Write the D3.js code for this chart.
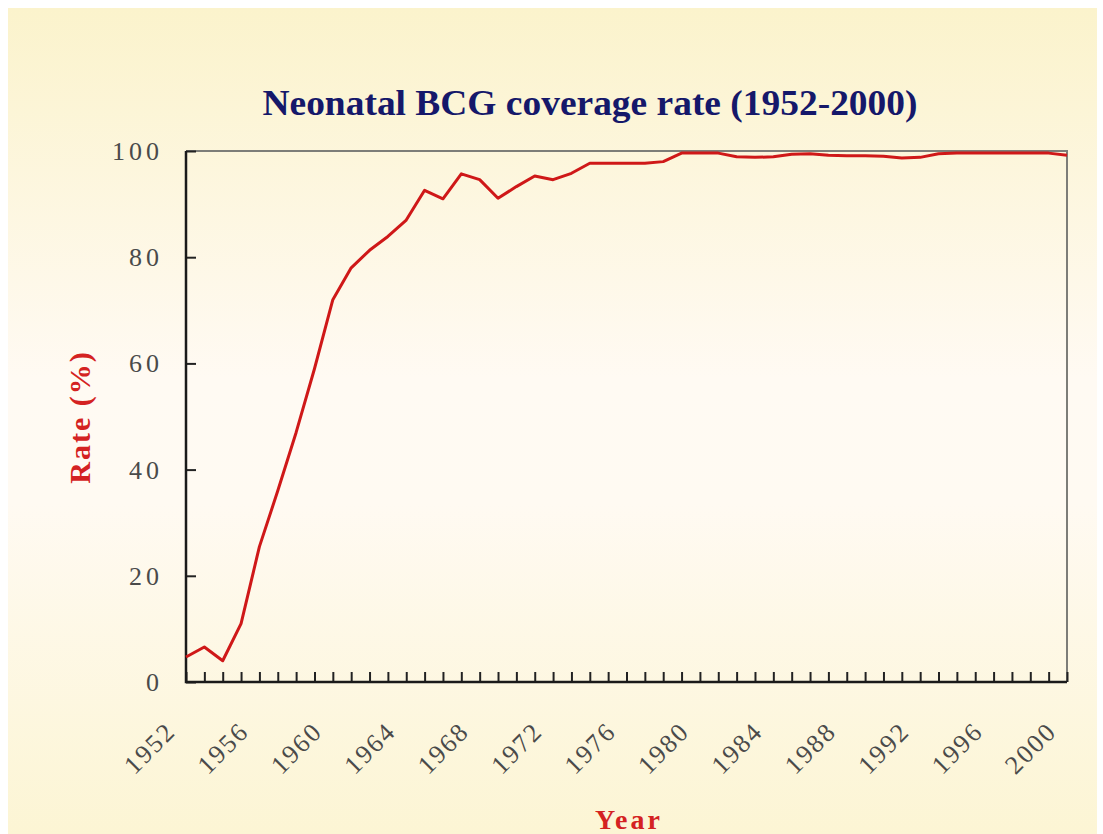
<!DOCTYPE html>
<html>
<head>
<meta charset="utf-8">
<script src="https://cdn.jsdelivr.net/npm/d3@7"></script>
<style>
  html, body { margin: 0; padding: 0; background: #ffffff; }
  svg { display: block; }
</style>
</head>
<body>
<div id="chart"></div>
<script>
// data
var years = [1952, 1953, 1954, 1955, 1956, 1957, 1958, 1959, 1960, 1961,
             1962, 1963, 1964, 1965, 1966, 1967, 1968, 1969, 1970, 1971,
             1972, 1973, 1974, 1975, 1976, 1977, 1978, 1979, 1980, 1981,
             1982, 1983, 1984, 1985, 1986, 1987, 1988, 1989, 1990, 1991,
             1992, 1993, 1994, 1995, 1996, 1997, 1998, 1999, 2000];
var rates = [4.7, 6.6, 4.0, 11, 25.5, 36, 47, 59, 72, 78,
             81.3, 83.9, 87, 92.6, 91, 95.7, 94.6, 91.1, 93.3, 95.3,
             94.6, 95.8, 97.7, 97.7, 97.7, 97.7, 98, 99.6, 99.6, 99.6,
             98.9, 98.8, 98.9, 99.4, 99.5, 99.2, 99.1, 99.1, 99.0, 98.7,
             98.8, 99.5, 99.6, 99.6, 99.6, 99.6, 99.6, 99.6, 99.2];
var yTicks = [0, 20, 40, 60, 80, 100];
var xLabelYears = [1952, 1956, 1960, 1964, 1968, 1972, 1976, 1980, 1984, 1988, 1992, 1996, 2000];
var titleText = "Neonatal BCG coverage rate (1952-2000)";

var W = 1103, H = 834;
// plot box (window.top is reserved, so prefixed names)
var pLeft = 186, pRight = 1067, pTop = 151, pBottom = 682;
var serif = "'Liberation Serif', 'Times New Roman', serif";

var svg = d3.select("#chart").append("svg")
    .attr("width", W)
    .attr("height", H);

// background gradient - cream top and bottom, lighter middle
var defs = svg.append("defs");
var grad = defs.append("linearGradient")
    .attr("id", "bg")
    .attr("x1", 0).attr("y1", 0).attr("x2", 0).attr("y2", 1);
grad.append("stop").attr("offset", "0%").attr("stop-color", "#fbf3cc");
grad.append("stop").attr("offset", "45%").attr("stop-color", "#fffaf3");
grad.append("stop").attr("offset", "60%").attr("stop-color", "#fffaf2");
grad.append("stop").attr("offset", "100%").attr("stop-color", "#fcf5d4");

svg.append("rect")
    .attr("x", 8)
    .attr("y", 8)
    .attr("width", W - 14)
    .attr("height", H - 8)
    .style("fill", "url(#bg)");

var x = d3.scaleLinear().domain([1952, 2000]).range([pLeft, pRight]);
var y = d3.scaleLinear().domain([0, 100]).range([pBottom, pTop]);

// top and right frame - grey
svg.append("path")
    .attr("d", "M" + pLeft + "," + pTop + "H" + pRight + "V" + pBottom)
    .style("fill", "none")
    .style("stroke", "#7d7d78")
    .style("stroke-width", 2);

// y axis - inward ticks
var yAxis = svg.append("g")
    .attr("transform", "translate(" + pLeft + ",0)")
    .call(d3.axisRight(y).tickValues(yTicks).tickSize(10).tickFormat(""));
yAxis.select(".domain").remove();
yAxis.selectAll(".tick line").style("stroke", "#222").style("stroke-width", 2);

svg.selectAll(".ylab")
    .data(yTicks)
    .enter()
    .append("text")
    .attr("class", "ylab")
    .attr("x", 163)
    .attr("y", function(d) { return y(d) + 9; })
    .attr("text-anchor", "end")
    .style("font-family", serif)
    .style("font-size", "26px")
    .style("letter-spacing", "4px")
    .style("fill", "#4a4a4a")
    .text(function(d) { return d; });

// x axis - inward ticks every year
var xAxis = svg.append("g")
    .attr("transform", "translate(0," + pBottom + ")")
    .call(d3.axisTop(x).tickValues(years).tickSize(10).tickFormat(""));
xAxis.select(".domain").remove();
xAxis.selectAll(".tick line").style("stroke", "#222").style("stroke-width", 2);

// left and bottom axis lines
svg.append("path")
    .attr("d", "M" + pLeft + "," + pTop + "V" + pBottom + "H" + pRight)
    .style("fill", "none")
    .style("stroke", "#1a1a1a")
    .style("stroke-width", 2.5);

svg.selectAll(".xlab")
    .data(xLabelYears)
    .enter()
    .append("text")
    .attr("class", "xlab")
    .attr("transform", function(d) { return "translate(" + (x(d) - 9) + "," + 733 + ") rotate(-45)"; })
    .attr("text-anchor", "end")
    .style("font-family", serif)
    .style("font-size", "26px")
    .style("letter-spacing", "2px")
    .style("fill", "#4a4a4a")
    .text(function(d) { return d; });

// the line
var line = d3.line()
    .x(function(d, i) { return x(years[i]); })
    .y(function(d) { return y(d); });

svg.append("path")
    .datum(rates)
    .attr("d", line)
    .style("fill", "none")
    .style("stroke", "#cf1818")
    .style("stroke-width", 3)
    .style("stroke-linejoin", "round");

// title
svg.append("text")
    .attr("x", 590)
    .attr("y", 115)
    .attr("text-anchor", "middle")
    .attr("textLength", 655)
    .attr("lengthAdjust", "spacingAndGlyphs")
    .style("font-family", serif)
    .style("font-weight", "bold")
    .style("font-size", "36px")
    .style("fill", "#15186a")
    .text(titleText);

// axis titles
svg.append("text")
    .attr("transform", "translate(" + 90 + "," + 417 + ") rotate(-90)")
    .attr("text-anchor", "middle")
    .style("font-family", serif)
    .style("font-weight", "bold")
    .style("font-size", "30px")
    .style("letter-spacing", "2px")
    .style("fill", "#d42222")
    .text("Rate (%)");

svg.append("text")
    .attr("x", 629)
    .attr("y", 829)
    .attr("text-anchor", "middle")
    .style("font-family", serif)
    .style("font-weight", "bold")
    .style("font-size", "28px")
    .style("letter-spacing", "3px")
    .style("fill", "#d42222")
    .text("Year");
</script>
</body>
</html>
